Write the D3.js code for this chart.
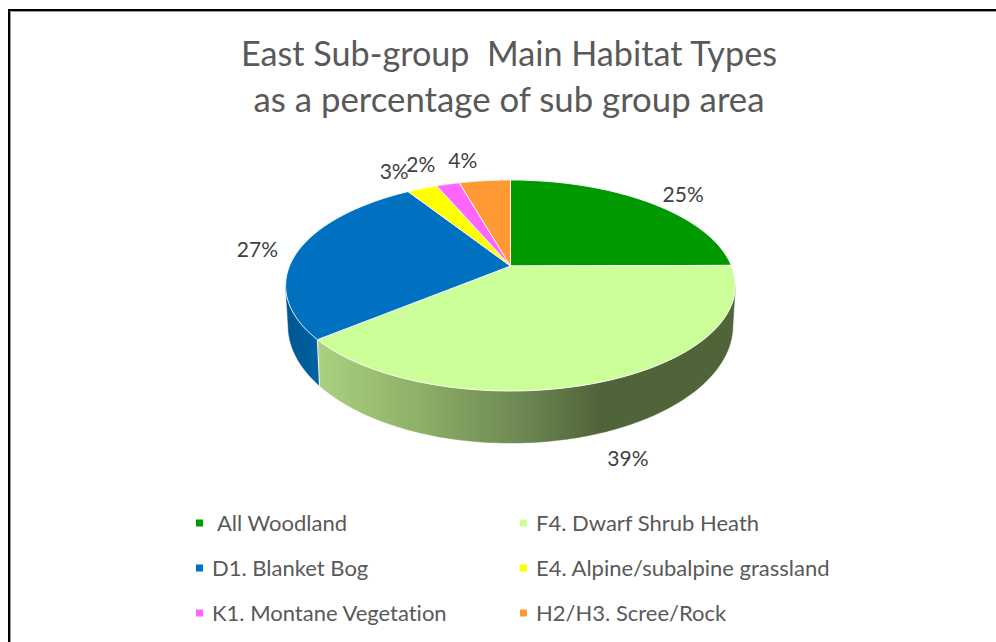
<!DOCTYPE html>
<html>
<head>
<meta charset="utf-8">
<script src="https://cdnjs.cloudflare.com/ajax/libs/d3/7.8.5/d3.min.js"></script>
<style>
html,body{margin:0;padding:0;background:#fff}
svg{display:block}
text{font-family:Lato,"Open Sans",sans-serif;fill:#595959;white-space:pre;font-variant-ligatures:none}
</style>
</head>
<body>
<svg id="chart" width="996" height="642"></svg>
<script>
const titleLines = ["East Sub-group  Main Habitat Types", "as a percentage of sub group area"];
const titleWidths = [536, 511];
const values = [24.9, 39.1, 27.0, 2.6, 2.0, 4.4];
const colors = ["#009900", "#CCFF99", "#0070C0", "#FFFF00", "#FF66FF", "#FF9933"];
const legendLabels = [" All Woodland", "F4. Dwarf Shrub Heath", "D1. Blanket Bog", "E4. Alpine/subalpine grassland", "K1. Montane Vegetation", "H2/H3. Scree/Rock"];

const svg = d3.select("#chart");
const W = 996, H = 642;

// frame
svg.append("path").attr("d", `M10.5 ${H}V11.5H${W}`).attr("fill","none").attr("stroke","#9a9a9a").attr("stroke-width",1);
svg.append("path").attr("d", `M9 ${H}V10H${W}`).attr("fill","none").attr("stroke","#000").attr("stroke-width",2);

// title
svg.selectAll("text.title").data(titleLines).join("text")
  .attr("class","title").attr("x",509).attr("y",(d,i)=>66+i*46)
  .attr("text-anchor","middle").attr("font-size",34.5)
  .attr("textLength",(d,i)=>titleWidths[i]).attr("lengthAdjust","spacingAndGlyphs").text(d=>d);

// perspective projection of the pie disc
const cx = 510.5, apexY = 266, a = 221, b = 101.9, k = 0.185;
const project = t => {
  const X = Math.sin(t), Y = -Math.cos(t), w = 1 - k*Y;
  return [cx + a*X/w, apexY + b*Y/w];
};
// lower rim of the extruded side
const topCy = 285.5, topRx = 225.5, topRy = 105.5, botCy = 325.5, botRx = 223, botRy = 117.5;
const lower = ([x,y]) => [cx + (x-cx)*botRx/topRx, botCy + (y-topCy)*botRy/topRy];

const pie = d3.pie().sort(null).value(d=>d)(values);
const arcPts = (t0,t1) => d3.range(0,61).map(i=>project(t0+(t1-t0)*i/60));
const line = d3.line();

// gradients
const defs = svg.append("defs");
const gradient = (id,x1,x2,stops) => {
  const g = defs.append("linearGradient").attr("id",id).attr("gradientUnits","userSpaceOnUse")
    .attr("x1",x1).attr("x2",x2).attr("y1",0).attr("y2",0);
  stops.forEach(([o,c])=>g.append("stop").attr("offset",o).attr("stop-color",c));
};
gradient("sideGreen",320,600,[[0,"#ABD081"],[0.35,"#8EB068"],[0.7,"#6F8A54"],[1,"#50643A"]]);
gradient("sideBlue",286,322,[[0,"#00578F"],[1,"#0062A6"]]);

// visible side walls
const silhouette = Math.acos(-k);
const sides = [
  {t0:silhouette, t1:pie[1].endAngle, fill:"url(#sideGreen)"},
  {t0:pie[1].endAngle, t1:2*Math.PI-silhouette, fill:"url(#sideBlue)"}
];
svg.selectAll("path.side").data(sides).join("path").attr("class","side")
  .attr("fill",d=>d.fill)
  .attr("stroke",d=>d.fill).attr("stroke-width",0.5)
  .attr("d",d=>{
    const up = arcPts(d.t0,d.t1), down = up.map(lower).reverse();
    return line(up.concat(down))+"Z";
  });
// white seam between the two side walls
const seam = project(pie[1].endAngle);
svg.append("path").attr("d",line([seam,lower(seam)])).attr("stroke","#f2f6ea").attr("stroke-width",1.2);

// top slices
svg.selectAll("path.slice").data(pie).join("path").attr("class","slice")
  .attr("fill",(d,i)=>colors[i])
  .attr("stroke","#fff").attr("stroke-opacity",0.85).attr("stroke-width",1)
  .attr("stroke-linejoin","round")
  .attr("d",d=>line([[cx,apexY]].concat(arcPts(d.startAngle,d.endAngle)))+"Z");

// data labels: outside-end placement relative to each slice's rim midpoint
const labelAt = [
  p=>[p[0]+35,p[1]-9],
  p=>[p[0]+26,p[1]+76],
  p=>[p[0]-41,p[1]-2],
  p=>[p[0]-28,p[1]-18],
  p=>[p[0]-27,p[1]-21],
  p=>[p[0]-22,p[1]-21]
];
svg.selectAll("text.lab").data(pie).join("text").attr("class","lab")
  .attr("text-anchor","middle").attr("dominant-baseline","central")
  .attr("font-size",21)
  .style("fill","#404040")
  .attr("transform",(d,i)=>{
    const p = labelAt[i](project((d.startAngle+d.endAngle)/2));
    return `translate(${p[0]},${p[1]})`;
  })
  .text(d=>Math.round(d.value)+"%");

// legend
const colX = d3.scalePoint().domain([0,1]).range([196,520]);
const rowY = d3.scalePoint().domain([0,1,2]).range([523,613]);
const legend = svg.selectAll("g.leg").data(legendLabels).join("g").attr("class","leg")
  .attr("transform",(d,i)=>`translate(${colX(i%2)},${rowY(Math.floor(i/2))})`);
legend.append("rect").attr("x",0).attr("y",-3.5).attr("width",7).attr("height",7).attr("fill",(d,i)=>colors[i]);
legend.append("text").attr("x",16).attr("y",-1).attr("dominant-baseline","central").attr("font-size",22)
  .text(d=>d);
</script>
</body>
</html>
